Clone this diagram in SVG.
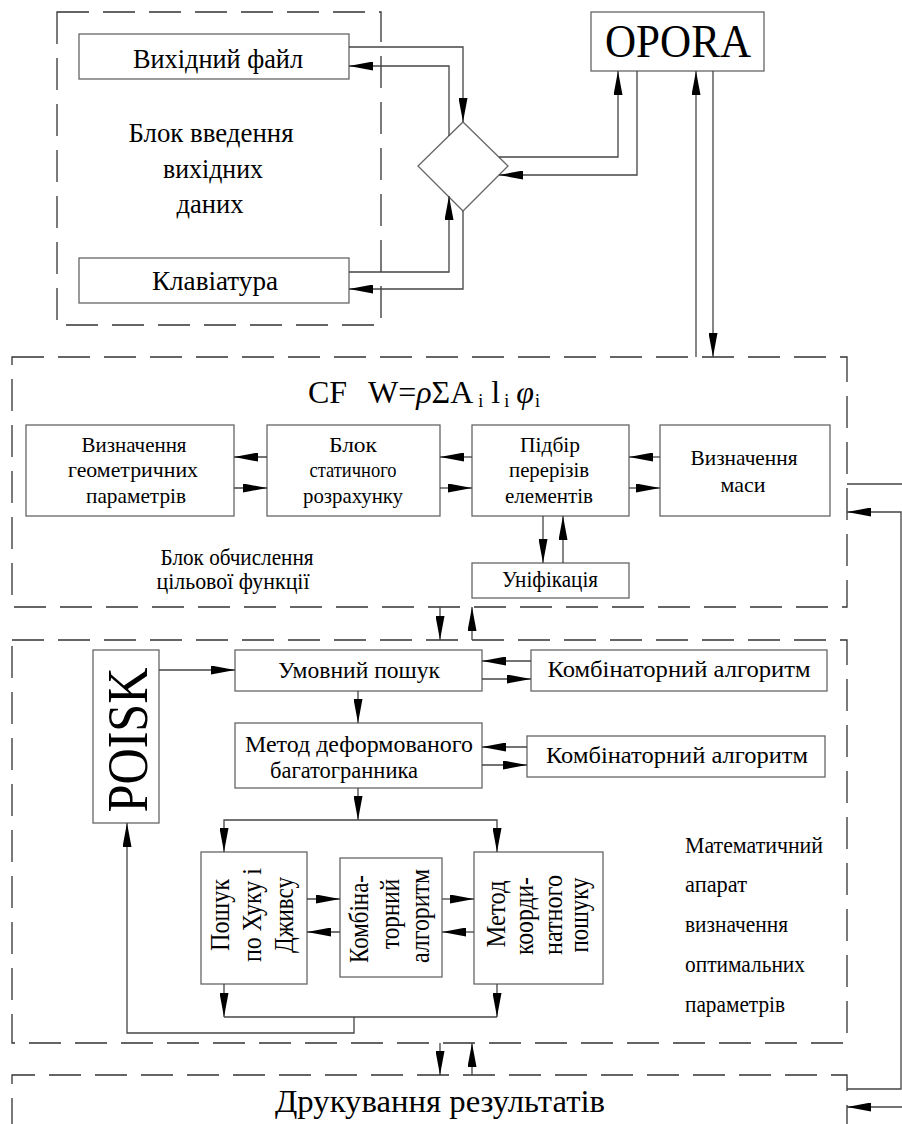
<svg xmlns="http://www.w3.org/2000/svg" width="902" height="1124" viewBox="0 0 902 1124">
<style>
.box{fill:#fff;stroke:#666;stroke-width:1.3}
.dash{fill:none;stroke:#333;stroke-width:1.3;stroke-dasharray:32 14}
.ln{fill:none;stroke:#444;stroke-width:1.3}
.a{marker-end:url(#ah)}
text{font-family:"Liberation Serif","Times New Roman",serif;fill:#000}
.c{text-anchor:middle}
</style>
<defs>
<marker id="ah" markerUnits="userSpaceOnUse" markerWidth="24" markerHeight="9" refX="24" refY="4.5" orient="auto" viewBox="0 0 24 9">
<path d="M0,0 L24,4.5 L0,9 z" fill="#000"/>
</marker>
</defs>
<rect width="902" height="1124" fill="#fff"/>

<g id="input-block">
<rect class="dash" x="57" y="12" width="324" height="313"/>
<text class="c" x="211" y="142" font-size="27" textLength="165" lengthAdjust="spacingAndGlyphs">Блок введення</text>
<text class="c" x="213" y="178" font-size="27" textLength="100" lengthAdjust="spacingAndGlyphs">вихідних</text>
<text class="c" x="210" y="213" font-size="27" textLength="67" lengthAdjust="spacingAndGlyphs">даних</text>
</g>
<g id="file">
<rect class="box" x="79" y="34" width="270" height="45"/>
<text class="c" x="218" y="68" font-size="28" textLength="170" lengthAdjust="spacingAndGlyphs">Вихідний файл</text>
</g>
<g id="keyboard">
<rect class="box" x="79" y="258" width="270" height="45"/>
<text class="c" x="215" y="290" font-size="28" textLength="126" lengthAdjust="spacingAndGlyphs">Клавіатура</text>
</g>
<g id="diamond">
<polygon class="box" points="463,122 508,166 463,211 418,166"/>
</g>
<g id="opora">
<rect class="box" x="591" y="12" width="173" height="59"/>
<text class="c" x="678" y="57" font-size="46" textLength="146" lengthAdjust="spacingAndGlyphs">OPORA</text>
</g>

<g id="cf-block">
<rect class="dash" x="12" y="357" width="835" height="250"/>
<text y="403" font-size="32"><tspan x="308">CF</tspan><tspan x="368">W=</tspan><tspan font-style="italic">ρ</tspan>ΣA<tspan font-size="18" dx="5" dy="4">i</tspan><tspan dx="8" dy="-4">l</tspan><tspan font-size="18" dx="4" dy="4">i</tspan><tspan dx="7" dy="-4" font-style="italic">φ</tspan><tspan font-size="18" dx="1" dy="4">i</tspan></text>
<text class="c" x="237" y="565" font-size="23" textLength="153" lengthAdjust="spacingAndGlyphs">Блок обчислення</text>
<text class="c" x="233" y="589" font-size="23" textLength="153" lengthAdjust="spacingAndGlyphs">цільової функції</text>
</g>
<g id="geom">
<rect class="box" x="26" y="425" width="208" height="91"/>
<text class="c" x="134" y="452" font-size="21" textLength="105" lengthAdjust="spacingAndGlyphs">Визначення</text>
<text class="c" x="133" y="477" font-size="21" textLength="130" lengthAdjust="spacingAndGlyphs">геометричних</text>
<text class="c" x="136" y="503" font-size="21" textLength="100" lengthAdjust="spacingAndGlyphs">параметрів</text>
</g>
<g id="static">
<rect class="box" x="267" y="425" width="173" height="91"/>
<text class="c" x="353" y="452" font-size="21" textLength="48" lengthAdjust="spacingAndGlyphs">Блок</text>
<text class="c" x="353" y="477" font-size="21" textLength="87" lengthAdjust="spacingAndGlyphs">статичного</text>
<text class="c" x="353" y="503" font-size="21" textLength="100" lengthAdjust="spacingAndGlyphs">розрахунку</text>
</g>
<g id="sections">
<rect class="box" x="472" y="425" width="157" height="91"/>
<text class="c" x="550" y="452" font-size="21" textLength="60" lengthAdjust="spacingAndGlyphs">Підбір</text>
<text class="c" x="549" y="477" font-size="21" textLength="80" lengthAdjust="spacingAndGlyphs">перерізів</text>
<text class="c" x="549" y="503" font-size="21" textLength="88" lengthAdjust="spacingAndGlyphs">елементів</text>
</g>
<g id="mass">
<rect class="box" x="660" y="425" width="170" height="91"/>
<text class="c" x="744" y="465" font-size="22" textLength="107" lengthAdjust="spacingAndGlyphs">Визначення</text>
<text class="c" x="743" y="492" font-size="22" textLength="45" lengthAdjust="spacingAndGlyphs">маси</text>
</g>
<g id="unif">
<rect class="box" x="472" y="563" width="157" height="35"/>
<text class="c" x="550" y="587" font-size="24" textLength="96" lengthAdjust="spacingAndGlyphs">Уніфікація</text>
</g>

<g id="math-block">
<rect class="dash" x="12" y="640" width="835" height="403"/>
<text x="685" y="853" font-size="24" textLength="138" lengthAdjust="spacingAndGlyphs">Математичний</text>
<text x="685" y="892" font-size="24" textLength="62" lengthAdjust="spacingAndGlyphs">апарат</text>
<text x="685" y="932" font-size="24" textLength="103" lengthAdjust="spacingAndGlyphs">визначення</text>
<text x="685" y="972" font-size="24" textLength="120" lengthAdjust="spacingAndGlyphs">оптимальних</text>
<text x="685" y="1012" font-size="24" textLength="100" lengthAdjust="spacingAndGlyphs">параметрів</text>
</g>
<g id="poisk">
<rect class="box" x="93" y="650" width="66" height="173"/>
<text class="c" transform="translate(147,740) rotate(-90)" font-size="58" textLength="145" lengthAdjust="spacingAndGlyphs">POISK</text>
</g>
<g id="cond-search">
<rect class="box" x="235" y="650" width="247" height="41"/>
<text class="c" x="359" y="678" font-size="24" textLength="162" lengthAdjust="spacingAndGlyphs">Умовний пошук</text>
</g>
<g id="comb1">
<rect class="box" x="531" y="650" width="296" height="41"/>
<text class="c" x="679" y="677" font-size="23" textLength="263" lengthAdjust="spacingAndGlyphs">Комбінаторний алгоритм</text>
</g>
<g id="deformed">
<rect class="box" x="235" y="723" width="247" height="65"/>
<text class="c" x="359" y="752" font-size="23" textLength="228" lengthAdjust="spacingAndGlyphs">Метод деформованого</text>
<text class="c" x="344" y="778" font-size="23" textLength="148" lengthAdjust="spacingAndGlyphs">багатогранника</text>
</g>
<g id="comb2">
<rect class="box" x="527" y="736" width="298" height="41"/>
<text class="c" x="677" y="763" font-size="23" textLength="262" lengthAdjust="spacingAndGlyphs">Комбінаторний алгоритм</text>
</g>
<g id="hooke">
<rect class="box" x="201" y="852" width="106" height="132"/>
<text class="c" transform="translate(229,915) rotate(-90)" font-size="27" textLength="72" lengthAdjust="spacingAndGlyphs">Пошук</text>
<text class="c" transform="translate(261,915) rotate(-90)" font-size="27" textLength="94" lengthAdjust="spacingAndGlyphs">по Хуку і</text>
<text class="c" transform="translate(293,915) rotate(-90)" font-size="27" textLength="76" lengthAdjust="spacingAndGlyphs">Дживсу</text>
</g>
<g id="comb3">
<rect class="box" x="340" y="858" width="102" height="119"/>
<text class="c" transform="translate(368,919) rotate(-90)" font-size="27" textLength="88" lengthAdjust="spacingAndGlyphs">Комбіна-</text>
<text class="c" transform="translate(399,914) rotate(-90)" font-size="27" textLength="70" lengthAdjust="spacingAndGlyphs">торний</text>
<text class="c" transform="translate(429,916) rotate(-90)" font-size="27" textLength="94" lengthAdjust="spacingAndGlyphs">алгоритм</text>
</g>
<g id="coord">
<rect class="box" x="474" y="852" width="129" height="132"/>
<text class="c" transform="translate(505,914) rotate(-90)" font-size="27" textLength="67" lengthAdjust="spacingAndGlyphs">Метод</text>
<text class="c" transform="translate(533,916) rotate(-90)" font-size="27" textLength="78" lengthAdjust="spacingAndGlyphs">коорди-</text>
<text class="c" transform="translate(562,915) rotate(-90)" font-size="27" textLength="80" lengthAdjust="spacingAndGlyphs">натного</text>
<text class="c" transform="translate(588,915) rotate(-90)" font-size="27" textLength="75" lengthAdjust="spacingAndGlyphs">пошуку</text>
</g>

<g id="print-block">
<path class="dash" d="M12,1130 V1075 H847 V1130"/>
<text class="c" x="440" y="1112" font-size="32" textLength="330" lengthAdjust="spacingAndGlyphs">Друкування результатів</text>
</g>

<g id="connectors">
<path class="ln a" d="M349,47 H463 V122"/>
<path class="ln a" d="M449,136 V66 H349"/>
<path class="ln a" d="M349,272 H449 V196"/>
<path class="ln a" d="M463,211 V289 H349"/>
<path class="ln a" d="M499,157 H618 V71"/>
<path class="ln a" d="M637,71 V175 H499"/>
<path class="ln a" d="M696,357 V71"/>
<path class="ln a" d="M713,71 V357"/>

<path class="ln a" d="M267,457 H234"/>
<path class="ln a" d="M234,488 H267"/>
<path class="ln a" d="M472,457 H440"/>
<path class="ln a" d="M440,488 H472"/>
<path class="ln a" d="M660,457 H629"/>
<path class="ln a" d="M629,488 H660"/>
<path class="ln a" d="M543,516 V563"/>
<path class="ln a" d="M563,563 V516"/>

<path class="ln a" d="M440,607 V640"/>
<path class="ln a" d="M472,640 V607"/>

<path class="ln" d="M847,484 H902"/>
<path class="ln a" d="M847,1089 H901 V512 H847"/>
<path class="ln a" d="M902,1107 H847"/>

<path class="ln a" d="M159,670 H235"/>
<path class="ln a" d="M531,661 H482"/>
<path class="ln a" d="M482,679 H531"/>
<path class="ln a" d="M358,691 V723"/>
<path class="ln a" d="M527,747 H482"/>
<path class="ln a" d="M482,765 H527"/>
<path class="ln a" d="M358,788 V820"/>
<path class="ln a" d="M358,820 H224 V852"/>
<path class="ln a" d="M358,820 H497 V852"/>
<path class="ln a" d="M307,899 H340"/>
<path class="ln a" d="M340,932 H307"/>
<path class="ln a" d="M442,899 H474"/>
<path class="ln a" d="M474,932 H442"/>
<path class="ln a" d="M224,984 V1017"/>
<path class="ln a" d="M497,984 V1017"/>
<path class="ln" d="M224,1017 H497"/>
<path class="ln a" d="M354,1017 V1033 H127 V823"/>

<path class="ln a" d="M440,1043 V1075"/>
<path class="ln a" d="M472,1075 V1043"/>
</g>
</svg>
